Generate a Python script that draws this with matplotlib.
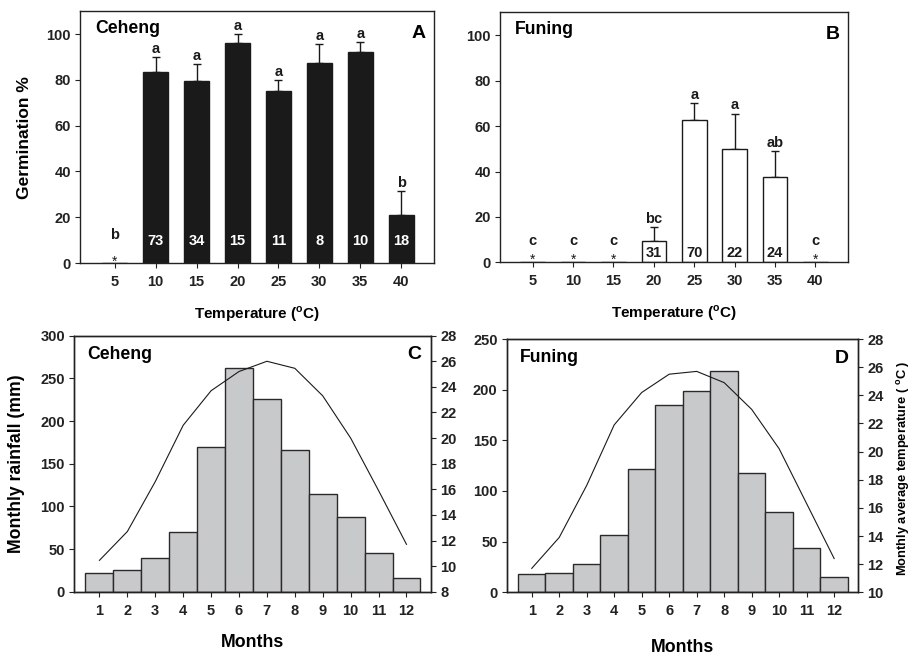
import matplotlib
matplotlib.use('Agg')
import matplotlib.pyplot as plt
import numpy as np

plt.rcParams['font.family'] = ['Liberation Sans', 'DejaVu Sans']
plt.rcParams['font.weight'] = 'bold'
plt.rcParams['axes.labelweight'] = 'bold'
plt.rcParams['mathtext.fontset'] = 'custom'
plt.rcParams['mathtext.rm'] = 'Liberation Sans:bold'
plt.rcParams['mathtext.bf'] = 'Liberation Sans:bold'
plt.rcParams['axes.linewidth'] = 1.0
plt.rcParams['axes.edgecolor'] = '#222222'
plt.rcParams['xtick.major.size'] = 3.6
plt.rcParams['ytick.major.size'] = 3.6
plt.rcParams['xtick.major.pad'] = 5
plt.rcParams['ytick.major.pad'] = 3

# germination data
temps = [5, 10, 15, 20, 25, 30, 35, 40]
ceheng_germ = [0, 83.5, 79.5, 96, 75, 87.5, 92, 21]
ceheng_err = [0, 6.5, 7.5, 4, 5, 8, 4.5, 10.5]
ceheng_letters = ['b', 'a', 'a', 'a', 'a', 'a', 'a', 'b']
ceheng_n = ['', '73', '34', '15', '11', '8', '10', '18']

funing_germ = [0, 0, 0, 9.5, 62.5, 50, 37.5, 0]
funing_err = [0, 0, 0, 6, 7.5, 15.5, 11.5, 0]
funing_letters = ['c', 'c', 'c', 'bc', 'a', 'a', 'ab', 'c']
funing_n = ['', '', '', '31', '70', '22', '24', '']

# climate data
months = [1, 2, 3, 4, 5, 6, 7, 8, 9, 10, 11, 12]
ceheng_rain = [21.5, 25.5, 39, 70, 169, 262.5, 225.5, 166, 114, 88, 45, 16.5]
ceheng_temp = [10.45, 12.7, 16.6, 21.0, 23.7, 25.2, 26.0, 25.45, 23.3, 20.0, 15.9, 11.7]
funing_rain = [18, 18.8, 27.6, 57, 122, 184.5, 199, 218.5, 118, 79, 44, 15.5]
funing_temp = [11.7, 13.9, 17.6, 21.9, 24.2, 25.5, 25.7, 24.9, 23.0, 20.2, 16.3, 12.4]

fig = plt.figure(figsize=(9.14, 6.56), dpi=100)
axA = fig.add_axes([0.0875, 0.599, 0.3873, 0.384])
axB = fig.add_axes([0.547, 0.600, 0.381, 0.381])
axC = fig.add_axes([0.081, 0.098, 0.3906, 0.3903])
axD = fig.add_axes([0.5544, 0.0971, 0.3847, 0.3861])

tlabel = r'Temperature ($^{\mathbf{o}}$C)'


def germ_panel(ax, germ, err, letters, nums, face, numcol, num_y, zero_let_y, zero_star_y, site, tag, xlim):
    germ = np.array(germ)
    err = np.array(err)
    ax.bar(temps, germ, width=3.05, color=face, edgecolor='#1a1a1a', linewidth=1.0, zorder=2)
    m = germ > 0
    ax.errorbar(np.array(temps)[m], germ[m], yerr=[np.zeros(m.sum()), err[m]],
                fmt='none', ecolor='#1a1a1a', elinewidth=1.0, capsize=3, capthick=1.0, zorder=1)
    for x, g, e, l, n in zip(temps, germ, err, letters, nums):
        if g > 0:
            ax.text(x, g + e + 1.8, l, ha='center', va='baseline', fontsize=10.5, color='#1a1a1a')
            ax.text(x, num_y, n, ha='center', va='baseline', fontsize=10.5, color=numcol, zorder=3)
        else:
            ax.text(x, zero_let_y, l, ha='center', va='baseline', fontsize=10.5, color='#1a1a1a')
            ax.text(x, zero_star_y, '*', ha='center', va='baseline', fontsize=10,
                    fontweight='normal', color='#1a1a1a')
    ax.set_xlim(*xlim)
    ax.set_ylim(0, 110)
    ax.set_xticks(temps)
    ax.set_yticks([0, 20, 40, 60, 80, 100])
    ax.tick_params(labelsize=10.5, colors='#222222')
    ax.set_xlabel(tlabel, fontsize=11)
    ax.xaxis.set_label_coords(0.5, -0.165)
    ax.text(0.042, 0.93, site, transform=ax.transAxes, fontsize=12.7, va='center', ha='left')
    ax.text(0.977, 0.912, tag, transform=ax.transAxes, fontsize=14, va='center', ha='right')


germ_panel(axA, ceheng_germ, ceheng_err, ceheng_letters, ceheng_n, '#1a1a1a', 'white',
           7.8, 10.3, -1.2, 'Ceheng', 'A', (0.75, 44.0))
germ_panel(axB, funing_germ, funing_err, funing_letters, funing_n, 'white', '#1a1a1a',
           2.5, 7.6, -0.8, 'Funing', 'B', (0.95, 44.05))
axA.set_ylabel('Germination %', fontsize=12.5)
axA.yaxis.set_label_coords(-0.136, 0.5)


def climate_panel(ax, rain, temp, rmax, tmin, site, tag):
    ax.bar(months, rain, width=1.0, color='#c8c9cb', edgecolor='#2a2a2a', linewidth=1.0, zorder=2)
    ax.set_xlim(0.09, 12.88)
    ax.set_ylim(0, rmax)
    ax.set_xticks(months)
    ax.set_yticks(np.arange(0, rmax + 1, 50))
    ax.tick_params(labelsize=10.5, colors='#222222')
    ax2 = ax.twinx()
    ax2.plot(months, temp, color='#1a1a1a', linewidth=0.8)
    ax2.set_ylim(tmin, 28)
    ax2.set_yticks(np.arange(tmin, 29, 2))
    ax2.tick_params(labelsize=10.5, colors='#222222')
    ax.set_xlabel('Months', fontsize=12.8)
    ax.text(0.036, 0.927, site, transform=ax.transAxes, fontsize=12.7, va='center', ha='left')
    ax.text(0.972, 0.925, tag, transform=ax.transAxes, fontsize=14, va='center', ha='right')
    return ax2


climate_panel(axC, ceheng_rain, ceheng_temp, 300, 8, 'Ceheng', 'C')
axC.xaxis.set_label_coords(0.5, -0.165)
axC.set_ylabel('Monthly rainfall (mm)', fontsize=12.7)
axC.yaxis.set_label_coords(-0.137, 0.5)

axD2 = climate_panel(axD, funing_rain, funing_temp, 250, 10, 'Funing', 'D')
axD.xaxis.set_label_coords(0.5, -0.185)
axD2.set_ylabel(r'Monthly average temperature ( $^{\mathbf{o}}$C )', fontsize=9.3)
axD2.yaxis.set_label_coords(1.104, 0.49)

fig.savefig('out.png', dpi=100)
